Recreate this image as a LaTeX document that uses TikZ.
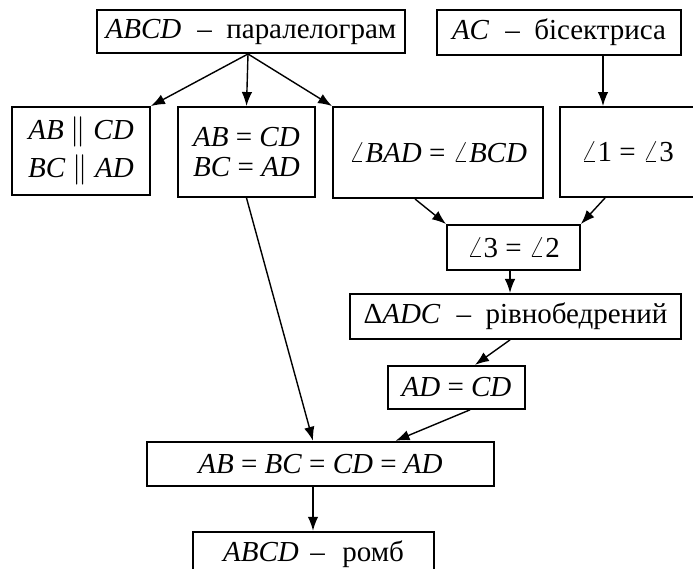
\documentclass[tikz,border=0pt]{standalone}
\usepackage{fontspec}
\setmainfont{Liberation Serif}
\usetikzlibrary{arrows.meta,positioning}
\newcommand{\mi}[1]{\textit{#1}}
\newcommand{\ds}{\hspace{0.55em}--\hspace{0.5em}}

\begin{document}
\begin{tikzpicture}[
            >={Latex[length=2.8mm,width=2.1mm]},
            every node/.style={font=\fontsize{16.5}{19}\selectfont},
            stmt/.style={draw, line width=1.1pt, rectangle, inner sep=0pt, minimum height=0.88cm},
            link/.style={->, line width=0.8pt}
        ]
            \useasboundingbox (0,0) rectangle (13.86,-11.36);

            \node[stmt, minimum width=6.16cm, minimum height=0.86cm] (para) at (5.02,-0.63) {\mi{ABCD}\ds паралелограм};
            \node[stmt, minimum width=4.88cm, minimum height=0.9cm] (bis) at (11.18,-0.65) {\mi{AC}\ds бісектриса};

            \node[stmt, minimum width=2.76cm, minimum height=1.76cm, align=center] (par) at (1.62,-3.02) {\mi{AB} $\parallel$ \mi{CD}\\[3pt] \mi{BC} $\parallel$ \mi{AD}};
            \node[stmt, minimum width=2.74cm, minimum height=1.8cm, align=center] (eq) at (4.93,-3.04) {\mi{AB} = \mi{CD}\\[-2pt] \mi{BC} = \mi{AD}};
            \node[stmt, minimum width=4.2cm, minimum height=1.82cm] (ang) at (8.76,-3.05) {$\angle$\mi{BAD} = $\angle$\mi{BCD}};
            \node[stmt, minimum width=2.7cm, minimum height=1.8cm] (a13) at (12.55,-3.04) {$\angle$1 = $\angle$3};

            \node[stmt, minimum width=2.66cm, minimum height=0.9cm] (a32) at (10.27,-4.95) {$\angle$3 = $\angle$2};
            \node[stmt, minimum width=6.62cm, minimum height=0.9cm, below=0.44cm of a32, xshift=0.04cm] (iso) {Δ\mi{ADC}\ds рівнобедрений};
            \node[stmt, minimum width=2.74cm, minimum height=0.86cm, below=0.5cm of iso, xshift=-1.18cm] (adcd) {\mi{AD} = \mi{CD}};
            \node[stmt, minimum width=6.94cm, below=0.62cm of adcd, xshift=-2.72cm] (all) {\mi{AB} = \mi{BC} = \mi{CD} = \mi{AD}};
            \node[stmt, minimum width=4.82cm, below=0.88cm of all, xshift=-0.14cm] (romb) {\mi{ABCD}\hspace{0.4em}--\hspace{0.6em}ромб};

            \draw[link] ([xshift=-0.06cm]para.south) -- (par.north east);
            \draw[link] ([xshift=-0.06cm]para.south) -- (par.north east -| eq.north);
            \draw[link] ([xshift=-0.06cm]para.south) -- (ang.north west);
            \draw[link] ([xshift=0.88cm]bis.south) -- ([xshift=-0.49cm]a13.north);
            \draw[link] ([xshift=-0.46cm]ang.south) -- (a32.north west);
            \draw[link] ([xshift=-0.45cm]a13.south) -- (a32.north east);
            \draw[link] ([xshift=-0.07cm]a32.south) -- ([xshift=-0.11cm]iso.north);
            \draw[link] ([xshift=-0.11cm]iso.south) -- ([xshift=0.37cm]adcd.north);
            \draw[link] ([xshift=0.27cm]adcd.south) -- ([xshift=1.5cm]all.north);
            \draw[link] (eq.south) -- ([xshift=-0.15cm]all.north);
            \draw[link] ([xshift=-0.15cm]all.south) -- ([xshift=-0.01cm]romb.north);
        \end{tikzpicture}
\end{document}
